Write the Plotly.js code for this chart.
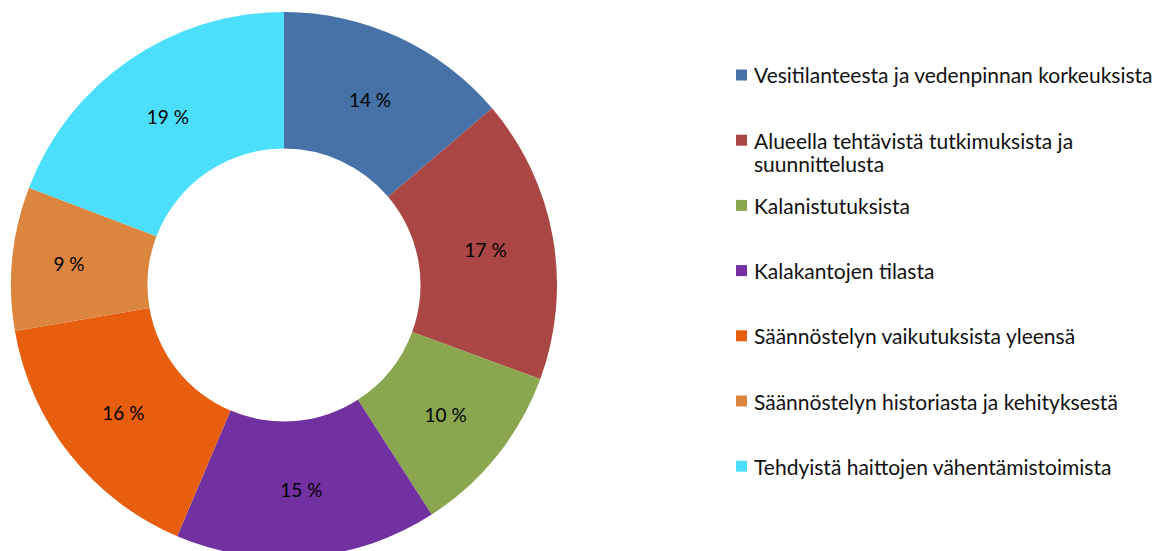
<!DOCTYPE html>
<html>
<head>
<meta charset="utf-8">
<script src="https://cdn.plot.ly/plotly-3.0.1.min.js"></script>
<style>
html,body{margin:0;padding:0;overflow:hidden;background:#fff;}
#chart{width:1170px;height:570px;}
</style>
</head>
<body>
<div id="chart"></div>
<script>
const categories = [
  "Vesitilanteesta ja vedenpinnan korkeuksista",
  "Alueella tehtävistä tutkimuksista ja<br>suunnittelusta",
  "Kalanistutuksista",
  "Kalakantojen tilasta",
  "Säännöstelyn vaikutuksista yleensä",
  "Säännöstelyn historiasta ja kehityksestä",
  "Tehdyistä haittojen vähentämistoimista"
];
const values = [13.8, 16.8, 10.3, 15.5, 15.9, 8.5, 19.2];
const colors = ["#4672A7", "#AA4744", "#8AA64F", "#7131A0", "#E85E0F", "#DC853F", "#4BDFFD"];

const W = 1170, H = 570;
const total = values.reduce((a, b) => a + b, 0);
const labelsText = values.map(v => Math.round(v / total * 100) + " %");

const fontFam = "Lato, 'Open Sans', sans-serif";
const legFont = 21;
const lineH = 23;

const trace = {
  type: "pie",
  labels: categories,
  values: values,
  text: labelsText,
  textinfo: "text",
  textposition: "inside",
  insidetextorientation: "horizontal",
  textfont: {family: fontFam, size: 19, color: "#000"},
  hole: 0.5,
  sort: false,
  direction: "clockwise",
  rotation: 0,
  marker: {colors: colors, line: {width: 0}},
  domain: {x: [11 / W, 557 / W], y: [1 - 558 / H, 1 - 12 / H]},
  showlegend: false,
  hoverinfo: "label+percent"
};

const shapes = [];
const annotations = [];
categories.forEach((c, i) => {
  const firstY = 75 + i * 65.2;
  const lines = c.split("<br>").length;
  shapes.push({
    type: "rect", xref: "paper", yref: "paper",
    x0: 736 / W, x1: 747 / W,
    y0: 1 - (firstY + 5.5) / H, y1: 1 - (firstY - 5.5) / H,
    fillcolor: colors[i], line: {width: 0}
  });
  const parts = c.split("<br>");
  parts.forEach((p, j) => {
    annotations.push({
      xref: "paper", yref: "paper",
      x: 752 / W, y: 1 - (firstY + j * lineH) / H,
      xanchor: "left", yanchor: "middle", align: "left",
      text: p, showarrow: false,
      font: {family: fontFam, size: legFont, color: "#111"}
    });
  });
});

const layout = {
  width: W, height: H,
  margin: {l: 0, r: 0, t: 0, b: 0},
  paper_bgcolor: "#fff",
  showlegend: false,
  shapes: shapes,
  annotations: annotations
};

Plotly.newPlot("chart", [trace], layout, {displayModeBar: false, staticPlot: true});
</script>
</body>
</html>
